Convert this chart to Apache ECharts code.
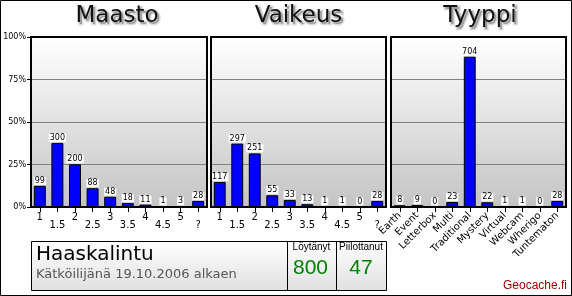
<!DOCTYPE html>
<html><head><meta charset="utf-8">
<script src="https://cdn.jsdelivr.net/npm/echarts@6/dist/echarts.min.js"></script>
<style>html,body{margin:0;padding:0;background:#fff}#c{width:572px;height:296px}</style>
</head><body><div id="c"></div>
<script>
const panelTitles = ['Maasto', 'Vaikeus', 'Tyyppi'];
const maastoCats = ['1', '1.5', '2', '2.5', '3', '3.5', '4', '4.5', '5', '?'];
const maastoCounts = [99, 300, 200, 88, 48, 18, 11, 1, 3, 28];
const vaikeusCats = ['1', '1.5', '2', '2.5', '3', '3.5', '4', '4.5', '5', '?'];
const vaikeusCounts = [117, 297, 251, 55, 33, 13, 1, 1, 0, 28];
const tyyppiCats = ['Earth', 'Event', 'Letterbox', 'Multi', 'Traditional', 'Mystery', 'Virtual', 'Webcam', 'Wherigo', 'Tuntematon'];
const tyyppiCounts = [8, 9, 0, 23, 704, 22, 1, 1, 0, 28];
const yTicks = [0, 25, 50, 75, 100];
const ownerName = 'Haaskalintu';
const ownerSince = 'Kätköilijänä 19.10.2006 alkaen';
const foundLabel = 'Löytänyt';
const foundCount = 800;
const hiddenLabel = 'Piilottanut';
const hiddenCount = 47;
const siteName = 'Geocache.fi';

const chart = echarts.init(document.getElementById('c'), null, {renderer: 'canvas'});
const panels = [
  {cats: maastoCats, counts: maastoCounts, left: 31, width: 176, center: 117, stagger: true},
  {cats: vaikeusCats, counts: vaikeusCounts, left: 211, width: 175, center: 298.5, stagger: true},
  {cats: tyyppiCats, counts: tyyppiCounts, left: 391, width: 175, center: 480, stagger: false}
];
const TOP = 37, H = 170;
const plotBg = new echarts.graphic.LinearGradient(0, 0, 0, 1, [{offset: 0, color: '#ffffff'}, {offset: 1, color: '#c4c4c4'}]);
const cellBg = new echarts.graphic.LinearGradient(0, 0, 0, 1, [{offset: 0, color: '#ffffff'}, {offset: 1, color: '#e0e0e0'}]);

const grids = [], xAxes = [], yAxes = [], series = [], graphics = [];
panels.forEach((p, i) => {
  const total = p.counts.reduce((a, b) => a + b, 0);
  grids.push({left: p.left, top: TOP, width: p.width, height: H, show: false, containLabel: false});
  graphics.push({type: 'rect', z: -10, silent: true, shape: {x: p.left, y: TOP, width: p.width, height: H},
    style: {fill: plotBg}});
  graphics.push({type: 'rect', z: 20, silent: true, shape: {x: p.left, y: TOP, width: p.width, height: H},
    style: {fill: 'none', stroke: '#000', lineWidth: 2}});
  xAxes.push({type: 'category', gridIndex: i, data: p.cats,
    axisLine: {show: true, lineStyle: {color: '#000', width: 2}},
    axisTick: {show: true, alignWithLabel: true, length: 5, lineStyle: {color: '#000', width: 1}},
    axisLabel: p.stagger ? {
      interval: 0, margin: 5, fontSize: 10, fontFamily: 'DejaVu Sans', color: '#000',
      formatter: (v, idx) => (idx % 2 ? '{b|' + v + '}' : '{a|' + v + '}'),
      rich: {a: {fontSize: 10, fontFamily: 'DejaVu Sans', color: '#000'},
             b: {fontSize: 10, fontFamily: 'DejaVu Sans', color: '#000', padding: [8, 0, 0, 0]}}
    } : {interval: 0, margin: 7, rotate: 45, fontSize: 10, fontFamily: 'DejaVu Sans', color: '#000'}
  });
  yAxes.push({type: 'value', gridIndex: i, min: yTicks[0], max: yTicks[yTicks.length - 1], interval: 25,
    axisLine: {show: false},
    axisTick: {show: i === 0, length: 4, lineStyle: {color: '#000'}},
    axisLabel: {show: i === 0, margin: 5, fontSize: 8, fontFamily: 'DejaVu Sans', color: '#000', formatter: '{value}%'},
    splitLine: {show: true, lineStyle: {color: '#7f7f7f', width: 1}}
  });
  series.push({type: 'bar', xAxisIndex: i, yAxisIndex: i, barWidth: '68%',
    data: p.counts.map(c => c / total * 100),
    itemStyle: {color: '#0000ff', borderColor: '#000', borderWidth: 1},
    label: {show: true, position: 'top', distance: 1, fontSize: 8, fontFamily: 'DejaVu Sans', color: '#000',
      backgroundColor: '#fff', padding: [0, 1, 0, 1], lineHeight: 8,
      formatter: q => String(p.counts[q.dataIndex])},
    silent: true, animation: false
  });
  // soft drop shadow behind the title
  graphics.push({type: 'text', x: p.center + 2, y: 7, z: 9, silent: true,
    style: {text: panelTitles[i], font: '23px "DejaVu Sans"', fill: 'rgba(0,0,0,0.28)',
      stroke: 'rgba(0,0,0,0.14)', lineWidth: 3, textAlign: 'center', textVerticalAlign: 'top'}});
  graphics.push({type: 'text', x: p.center, y: 5, z: 10, silent: true,
    style: {text: panelTitles[i], font: '23px "DejaVu Sans"', fill: '#111', textAlign: 'center', textVerticalAlign: 'top'}});
});

graphics.push({type: 'rect', shape: {x: 0.5, y: 0.5, width: 571, height: 295}, z: 0,
  style: {fill: 'none', stroke: '#000', lineWidth: 1}});
graphics.push({type: 'rect', shape: {x: 31.5, y: 241.5, width: 355, height: 49}, z: 1,
  style: {fill: cellBg, stroke: '#000', lineWidth: 1}});
graphics.push({type: 'line', shape: {x1: 287.5, y1: 241.5, x2: 287.5, y2: 290.5}, z: 2, style: {stroke: '#000', lineWidth: 1}});
graphics.push({type: 'line', shape: {x1: 336.5, y1: 241.5, x2: 336.5, y2: 290.5}, z: 2, style: {stroke: '#000', lineWidth: 1}});
graphics.push({type: 'text', x: 36, y: 245, z: 3,
  style: {text: ownerName, font: '20px "DejaVu Sans"', fill: '#000', textVerticalAlign: 'top'}});
graphics.push({type: 'text', x: 36, y: 268, z: 3,
  style: {text: ownerSince, font: '13px "DejaVu Sans"', fill: '#555', textVerticalAlign: 'top'}});
graphics.push({type: 'text', x: 311.5, y: 242, z: 3,
  style: {text: foundLabel, font: '10px "Liberation Sans"', fill: '#000', textAlign: 'center', textVerticalAlign: 'top'}});
graphics.push({type: 'text', x: 361, y: 242, z: 3,
  style: {text: hiddenLabel, font: '10px "Liberation Sans"', fill: '#000', textAlign: 'center', textVerticalAlign: 'top'}});
graphics.push({type: 'text', x: 310.5, y: 258, z: 3,
  style: {text: String(foundCount), font: '21px "Liberation Sans"', fill: '#008000', textAlign: 'center', textVerticalAlign: 'top'}});
graphics.push({type: 'text', x: 361, y: 258, z: 3,
  style: {text: String(hiddenCount), font: '21px "Liberation Sans"', fill: '#008000', textAlign: 'center', textVerticalAlign: 'top'}});
graphics.push({type: 'text', x: 567, y: 280, z: 3,
  style: {text: siteName, font: '12px "Liberation Sans"', fill: '#a00000', textAlign: 'right', textVerticalAlign: 'top'}});

chart.setOption({
  animation: false,
  grid: grids, xAxis: xAxes, yAxis: yAxes, series: series, graphic: graphics
});
</script></body></html>
